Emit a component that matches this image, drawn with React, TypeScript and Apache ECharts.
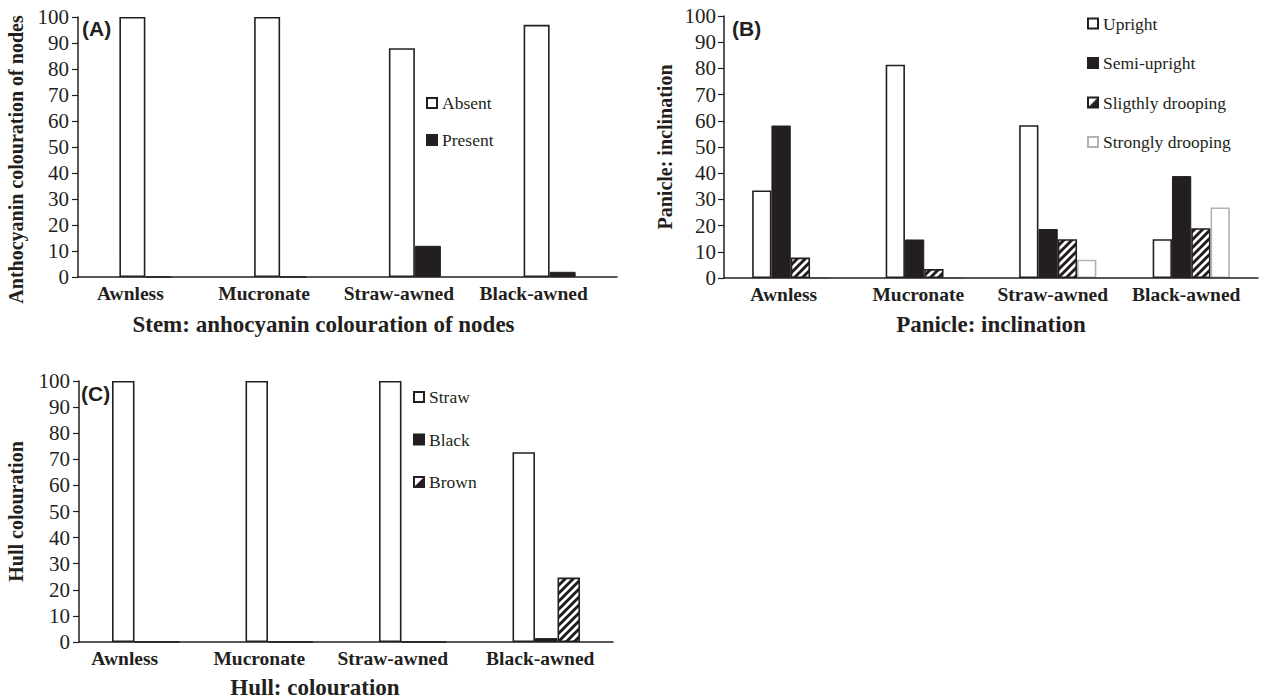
import React, { useEffect, useRef } from 'react';
import * as echarts from 'echarts';

// ---------- data ----------
const categories = ['Awnless', 'Mucronate', 'Straw-awned', 'Black-awned'];

const stemAbsent = [100, 100, 88, 97];
const stemPresent = [0, 0, 12, 2];

const panUpright = [33.4, 81.4, 58.3, 14.8];
const panSemiUpright = [58.2, 14.7, 18.7, 38.9];
const panSlightly = [7.8, 3.4, 14.8, 19.0];
const panStrongly = [0, 0, 7.0, 26.9];

const hullStraw = [100, 100, 100, 72.7];
const hullBlack = [0, 0, 0, 1.5];
const hullBrown = [0, 0, 0, 24.7];

const yMin = 0;
const yMax = 100;
const yInterval = 10;

const titleA = { x: 'Stem: anhocyanin colouration of nodes', y: 'Anthocyanin colouration of nodes' };
const titleB = { x: 'Panicle: inclination', y: 'Panicle: inclination' };
const titleC = { x: 'Hull: colouration', y: 'Hull colouration' };

// ---------- styles ----------
const INK = '#231f20';
const SERIF = '"Liberation Serif", "Times New Roman", serif';
const SANS = '"Liberation Sans", Arial, sans-serif';

function hatchCanvas(): HTMLCanvasElement {
  const c = document.createElement('canvas');
  c.width = 8;
  c.height = 8;
  const ctx = c.getContext('2d')!;
  ctx.fillStyle = '#ffffff';
  ctx.fillRect(0, 0, 8, 8);
  ctx.strokeStyle = INK;
  ctx.lineWidth = 3;
  ctx.beginPath();
  for (const k of [-8, 0, 8]) {
    ctx.moveTo(k - 1, 9);
    ctx.lineTo(k + 9, -1);
  }
  ctx.stroke();
  return c;
}

function legendHatchCanvas(): HTMLCanvasElement {
  const c = document.createElement('canvas');
  c.width = 10;
  c.height = 10;
  const ctx = c.getContext('2d')!;
  ctx.fillStyle = '#ffffff';
  ctx.fillRect(0, 0, 10, 10);
  ctx.fillStyle = INK;
  ctx.beginPath();
  ctx.moveTo(10, 0);
  ctx.lineTo(10, 10);
  ctx.lineTo(0, 10);
  ctx.closePath();
  ctx.fill();
  return c;
}

function xAxisFor(gridIndex: number, name: string, shifts: number[], nameShift: number, nameGap: number) {
  const rich: Record<string, any> = {};
  shifts.forEach((s, i) => {
    rich['c' + i] = {
      fontFamily: SERIF,
      fontWeight: 'bold',
      fontSize: 19.5,
      color: INK,
      padding: [0, 2 * s, 0, 0],
    };
  });
  return {
    type: 'category',
    gridIndex,
    data: categories,
    z: 10,
    boundaryGap: true,
    axisLine: { show: true, lineStyle: { color: INK, width: 1.5 } },
    axisTick: { show: false },
    splitLine: { show: false },
    axisLabel: {
      interval: 0,
      margin: 6.5,
      formatter: (v: string, i: number) => `{c${i}|${v}}`,
      rich,
    },
    name,
    nameLocation: 'middle',
    nameGap,
    nameMoveOverlap: false,
    nameTextStyle: {
      fontFamily: SERIF,
      fontWeight: 'bold',
      fontSize: 23,
      lineHeight: 22,
      color: INK,
      padding: [0, 2 * nameShift, 0, 0],
    },
  };
}

function yAxisFor(gridIndex: number, name: string, nameGap: number, labelMargin: number, tickLen: number, shiftDown: number) {
  return {
    type: 'value',
    gridIndex,
    min: yMin,
    max: yMax,
    interval: yInterval,
    z: 10,
    axisLine: { show: true, lineStyle: { color: INK, width: 1.5 } },
    axisTick: { show: true, inside: false, length: tickLen, lineStyle: { color: INK, width: 1.2 } },
    splitLine: { show: false },
    axisLabel: { margin: labelMargin, fontFamily: SERIF, fontSize: 21, color: INK },
    name,
    nameLocation: 'middle',
    nameRotate: 90,
    nameGap,
    nameMoveOverlap: false,
    nameTextStyle: {
      fontFamily: SERIF,
      fontWeight: 'bold',
      fontSize: 20,
      color: INK,
      padding: [0, 2 * shiftDown, 0, 0],
    },
  };
}

export default function App() {
  const ref = useRef<HTMLDivElement | null>(null);

  useEffect(() => {
    if (!ref.current) return;
    const chart = echarts.init(ref.current, null, { renderer: 'svg' });

    const hatch = { image: hatchCanvas(), repeat: 'repeat' };
    const legendHatch = { image: legendHatchCanvas(), repeat: 'repeat' };

    const WHITE = { color: '#ffffff', borderColor: INK, borderWidth: 1.6 };
    const BLACK = { color: INK, borderColor: INK, borderWidth: 1 };
    const HATCH = { color: hatch, borderColor: INK, borderWidth: 1.6 };
    const GREY = { color: '#ffffff', borderColor: '#b3b3b3', borderWidth: 1.6 };

    const bar = (name: string, axis: number, data: number[], width: number, itemStyle: any) => ({
      type: 'bar',
      name,
      xAxisIndex: axis,
      yAxisIndex: axis,
      data,
      barWidth: width,
      barGap: '0%',
      itemStyle,
      emphasis: { disabled: true },
      z: 2,
    });

    const legendBase = {
      orient: 'vertical',
      padding: 0,
      itemWidth: 10,
      itemHeight: 10,
      icon: 'rect',
      selectedMode: false,
      textStyle: { fontFamily: SERIF, fontSize: 17.5, color: INK, lineHeight: 18 },
    };

    const option: any = {
      animation: false,
      textStyle: { fontFamily: SERIF },
      grid: [
        { left: 78, top: 17, width: 539, height: 260, containLabel: false, outerBoundsMode: 'none' },
        { left: 724, top: 16, width: 534, height: 262, containLabel: false, outerBoundsMode: 'none' },
        { left: 79, top: 381, width: 534, height: 261, containLabel: false, outerBoundsMode: 'none' },
      ],
      xAxis: [
        xAxisFor(0, titleA.x, [15, 16, 16, 16], 24, 36),
        xAxisFor(1, titleB.x, [7, 6, 5, 5], 0, 35),
        xAxisFor(2, titleC.x, [21, 20, 20, 6], 31, 34),
      ],
      yAxis: [
        yAxisFor(0, titleA.y, 52, 9, 6, 12.5),
        yAxisFor(1, titleB.y, 49, 8, 6, 0),
        yAxisFor(2, titleC.y, 53, 9, 6, 0),
      ],
      legend: [
        { ...legendBase, data: ['Absent', 'Present'], left: 426, top: 94, itemGap: 19 },
        {
          ...legendBase,
          data: ['Upright', 'Semi-upright', { name: 'Sligthly drooping', itemStyle: { color: legendHatch } }, 'Strongly drooping'],
          left: 1087,
          top: 14.5,
          itemGap: 21.5,
        },
        {
          ...legendBase,
          data: ['Straw', 'Black', { name: 'Brown', itemStyle: { color: legendHatch } }],
          left: 413,
          top: 388,
          itemGap: 24.5,
        },
      ],
      graphic: [
        { type: 'text', x: 82, y: 17.5, style: { text: '(A)', font: `bold 21px ${SANS}`, fill: INK, verticalAlign: 'top' } },
        { type: 'text', x: 732, y: 17.5, style: { text: '(B)', font: `bold 21px ${SANS}`, fill: INK, verticalAlign: 'top' } },
        { type: 'text', x: 81, y: 382.5, style: { text: '(C)', font: `bold 21px ${SANS}`, fill: INK, verticalAlign: 'top' } },
      ],
      series: [
        bar('Absent', 0, stemAbsent, 26, WHITE),
        bar('Present', 0, stemPresent, 26, BLACK),
        bar('Upright', 1, panUpright, 19.3, WHITE),
        bar('Semi-upright', 1, panSemiUpright, 19.3, BLACK),
        bar('Sligthly drooping', 1, panSlightly, 19.3, HATCH),
        bar('Strongly drooping', 1, panStrongly, 19.3, GREY),
        bar('Straw', 2, hullStraw, 22.5, WHITE),
        bar('Black', 2, hullBlack, 22.5, BLACK),
        bar('Brown', 2, hullBrown, 22.5, HATCH),
      ],
    };

    chart.setOption(option);
    return () => {
      chart.dispose();
    };
  }, []);

  return <div ref={ref} style={{ position: 'absolute', left: 0, top: 0, width: 1263, height: 700 }} />;
}
